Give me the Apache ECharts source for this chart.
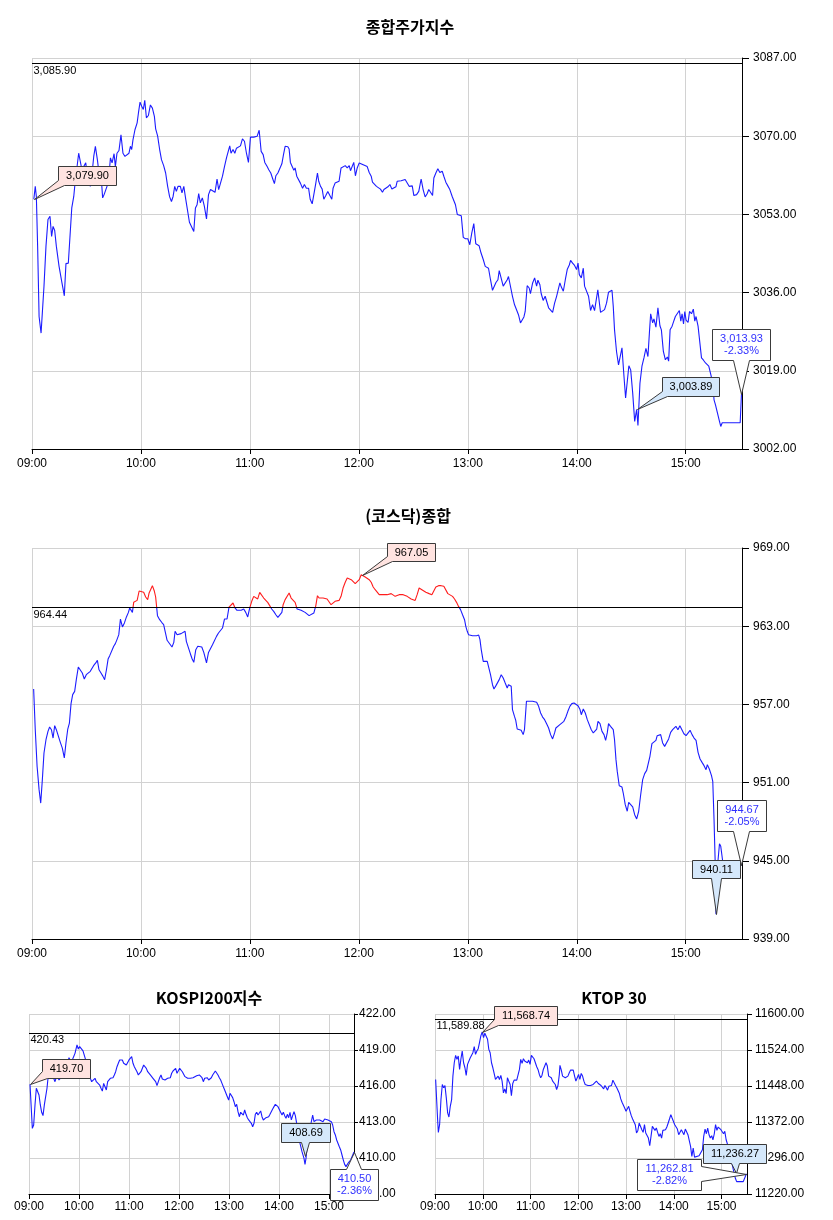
<!DOCTYPE html>
<html><head><meta charset="utf-8">
<script src="https://cdn.jsdelivr.net/npm/echarts@6/dist/echarts.min.js"></script>
<style>html,body{margin:0;padding:0;background:#fff}#c{width:833px;height:1220px}</style>
</head><body><div id="c"></div>
<script>
// ---------- DATA ----------
const hourLabels = ['09:00','10:00','11:00','12:00','13:00','14:00','15:00'];
const chartTitles = ['종합주가지수','(코스닥)종합','KOSPI200지수','KTOP 30'];

// 종합주가지수 (minutes after 09:00, index value)
const kospiTimes = [1,1.8,2.4,3.1,3.9,5,5.9,6.6,7.7,8.8,9.9,10.8,11.6,12.5,13.4,14.9,16.5,17.8,18.7,20,20.9,21.9,23,23.7,24.6,25.7,26.6,27.5,28.5,29.6,30.3,31.2,32.1,33.1,34,34.9,36,36.9,38.2,38.9,39.7,40.8,41.3,42.2,43.2,44.1,45.2,45.9,46.8,47.9,49,50.1,51.2,52.3,53.4,54.2,54.9,55.6,56.7,57.9,58.6,59.5,60.4,61.3,62.1,63,64.1,65.2,66.3,67.4,68.1,69.2,70.3,71.3,72.5,73.6,74.7,75.8,76.8,77.7,78.6,79.5,80.4,81.7,82.6,83.6,84.7,85.8,86.7,87.8,89.1,90,90.9,91.8,92.7,93.8,94.9,96.1,97.2,98.3,99.4,100.8,101.9,102.8,103.8,104.9,106,107.1,108.2,108.9,109.6,110.7,111.7,112.6,113.5,114.8,115.9,117,118.1,119.2,120.3,121.2,122.1,123.2,124,125.1,126.2,127.3,128.2,129.5,130.4,131.5,132.6,133.5,134.3,135.4,136.5,137.6,138.5,139.4,140.9,141.6,142.3,143.4,144.2,144.9,145.8,146.7,147.8,149,150,151.1,152.3,153.2,154.3,155.2,156.3,157.2,157.9,158.9,159.8,160.7,161.8,162.9,164,165.1,165.8,166.9,168,169.1,170.2,171.3,172.5,173.6,174.7,175.4,176.5,177.2,178.1,179.1,180.2,181.3,182.4,183.5,184.6,185.7,186.8,187.5,188.6,189.7,190.8,191.9,193,193.8,194.9,196,197.1,198.2,199.3,200.4,201.1,202.2,203.3,204.4,205.5,206.6,207.7,208.4,209.4,210.3,211.8,213,214.3,215.4,216.5,217.6,218.5,219.5,220.6,221.3,222.4,223.5,224.6,225.9,226.8,227.9,229,230.1,231.4,232.3,233.2,234.2,235.3,236.4,237.5,238.7,240,241.1,242.2,243.3,244.4,245.1,246.2,247.3,248.5,249.6,250.7,251.4,252.5,253.6,254.4,255.5,256.6,257.3,258.4,259.5,260.6,261.7,262.4,263.5,264.6,265.7,266.8,267.9,269,269.8,270.9,271.6,272.7,273.8,274.5,275.7,276.8,277.9,278.6,279.7,280.4,281.5,282.6,283.7,284.5,285.6,286.7,287.8,288.9,290,290.7,291.5,292.6,293.7,294.8,295.9,296.6,297.7,298.8,299.9,300.7,301.4,302.5,303.6,304.3,305.4,306.5,307.6,308.7,309.8,310.9,311.6,312.4,313.1,314.2,315.3,316.4,317.5,318.6,319.4,320.1,320.8,321.9,323,323.8,324.9,326,326.9,327.8,328.7,329.7,330.8,331.9,333,333.7,334.8,335.9,337,338.1,339.2,340,340.7,341.8,342.5,343.6,344.7,345.8,346.6,347.7,348.8,349.9,350.6,351.4,352.5,353.6,354.3,355.4,356.5,357.3,358,358.8,359.5,360.2,361.3,362.1,363.2,364.2,365,365.7,366.8,367.6,368.7,369.8,370.9,372,372.7,373.8,374.9,375.6,376.4,377.5,378.6,379.3,380.1,381.2,383,384.8,386.7,388.5,390,390.7];
const kospiValues = [3056.3,3059.1,3056.9,3046.1,3030.8,3027.2,3027.4,3037.4,3046.1,3051.9,3052.6,3048.2,3050.4,3049.5,3046.1,3041.7,3038.1,3035.3,3042.3,3042.4,3042.6,3054.4,3056.9,3059.8,3062.7,3066.3,3066.2,3062.7,3063.1,3064.2,3062,3063.1,3059.1,3062,3065.6,3067.8,3064.9,3062,3060.6,3056.6,3057.3,3057.3,3059.1,3060.6,3065.3,3064.2,3066.2,3063.4,3066.3,3066.9,3070.3,3066.3,3065.6,3065.6,3066.3,3067.8,3067.1,3069.2,3071.4,3072.9,3075,3077.4,3076.5,3075.8,3077.8,3074,3074.5,3076.8,3076.1,3074.3,3071.6,3070,3067.1,3064.9,3063.6,3062,3059.1,3056.8,3055.8,3056.9,3059.1,3058,3059.1,3059.1,3057.7,3059.1,3056.2,3055.8,3051.3,3051.1,3049.3,3054.4,3055.1,3057.5,3055.5,3056.6,3054.8,3052,3057.3,3058.4,3058,3057.8,3060.7,3058.4,3058.7,3061.3,3063.4,3065.3,3065.6,3067.9,3066.3,3067.1,3066.3,3067.4,3067.8,3067.9,3069.4,3068.9,3066.3,3064.3,3069.8,3069.4,3069.8,3069.5,3070,3071.3,3066.7,3066,3064.3,3063.4,3062.7,3062,3060.7,3059.7,3061.4,3062,3062.4,3064,3066,3067.8,3067.7,3067.2,3064.3,3063.3,3062.6,3063.1,3061.3,3061.4,3059.8,3058.7,3059.5,3058.7,3058.7,3056.3,3055.3,3057.3,3059.8,3062,3060.2,3059.1,3058.5,3056.3,3057.1,3058,3057.7,3056.3,3058.7,3059.8,3059.7,3060.2,3063.1,3063.4,3063.6,3063.1,3063.6,3062.5,3062.7,3064.3,3061.4,3063.1,3064.2,3064.5,3063.8,3064.2,3063.4,3062.1,3061.3,3060,3060.2,3059.1,3059.1,3058.5,3057.8,3058.4,3058.4,3059,3059.5,3058.5,3058.4,3059,3060.2,3060,3060.3,3060.2,3060.6,3060.6,3059.1,3059.1,3059.2,3057.1,3057.3,3058,3060.7,3058.4,3056.8,3057.5,3058.4,3058,3057.1,3060.9,3062,3062.9,3062.1,3062.4,3061.3,3060,3059.2,3058.4,3056.9,3056.9,3055.1,3053,3052.6,3052.7,3048,3047.7,3047.7,3046.4,3049,3051,3046.6,3046.4,3046.2,3044.6,3043.2,3041.7,3041.3,3041.3,3038.8,3036.5,3036.5,3038.2,3038.8,3040.8,3040.8,3037.4,3037.2,3038.8,3039.5,3039.2,3035.2,3033.4,3033.7,3031.2,3029.4,3029,3030.7,3031.9,3037.5,3037,3035.8,3038.1,3039.2,3037.4,3038.7,3037.7,3035.8,3034.3,3035.2,3035,3032.7,3032.4,3031.7,3033.7,3035.2,3035.2,3038.1,3037.2,3036.3,3038.8,3041.1,3042,3043,3042.4,3041.9,3041,3042.4,3039.9,3039.2,3041.3,3037.4,3037,3035.2,3032.1,3033.4,3032.1,3032.3,3036.6,3036.5,3031.7,3031.9,3032.3,3033.7,3036.1,3036.5,3036.5,3033,3027.9,3023.2,3020.3,3020,3024,3017.8,3013.1,3013.1,3020.1,3019.2,3014.2,3008,3010.6,3007.1,3016.3,3020,3021.8,3023.9,3022.1,3027.2,3031.4,3029.4,3030.3,3028.5,3032.7,3028.8,3027.9,3023.2,3021.4,3022,3021.1,3027.9,3028.7,3030,3030.8,3030.5,3032.1,3029.8,3031.4,3029.2,3031.9,3030,3029.5,3031.9,3031.4,3032.4,3029.8,3030.8,3028.7,3025.8,3021.8,3021.3,3020.7,3020.8,3020,3018.2,3016.3,3012.7,3011.6,3009.8,3008,3006.9,3007.7,3007.7,3007.7,3007.7,3007.7,3007.7,3007.7,3013.93];
const kospiPrevClose = 3085.90;
const kospiPrevText = '3,085.90';
const kospiCallTimes = [1, 333.0, 390.7];
const kospiCallValues = [3056.3, 3010.6, 3013.93];
const kospiCallTexts = ['3,079.90', '3,003.89', '3,013.93\n-2.33%'];

// (코스닥)종합
const kosdaqTimes = [0.9,1.8,2.8,3.9,4.8,5.7,6.6,7.7,8.8,9.7,10.7,11.6,12.5,13.4,14.5,15.6,16.7,17.8,18.7,19.7,20.6,21.5,22.4,23.5,24.4,25.5,26.6,27.7,28.8,29.9,31,32.1,33.1,33.9,35.1,36,36.9,38,39.1,40,41,41.9,42.8,43.9,45,45.9,46.8,47.8,48.7,49.8,50.9,52,53.1,53.8,54.5,55.3,56,57.1,57.9,59,60.1,61.5,62.6,63.7,64.5,65.2,66.3,67.4,68.1,69.1,70.3,71.4,72.5,73.3,74.4,75.5,76.2,77.1,78.1,78.8,79.9,81,82.1,83.2,84.3,85,86.1,87.2,88.2,89.1,90.2,91.3,92.4,93.5,94.6,95.3,96.1,97.2,98.3,99.4,100.5,101.6,102.7,103.8,104.9,106,107.4,108.5,109.6,110.7,111.8,112.9,114,115.2,116.6,117.7,118.8,119.9,121,122.1,123.2,124.3,125.4,126.5,127.6,128.7,129.8,130.9,132,133.1,134.3,135.4,136.5,137.6,138.3,139.4,140.5,141.6,142.7,143.8,144.9,146,147.1,148.2,149.3,150.4,151.5,152.6,153.7,155.2,156.3,157.2,158.1,159.2,160.3,161.4,162.5,163.6,164.7,165.8,166.9,168,169.1,170.2,171.3,172.5,173.6,174.7,175.8,176.9,178,179.1,180.2,181.3,182.4,183.5,184.6,185.7,186.8,187.9,189,190.1,191.2,192.3,193.4,194.5,195.6,196.7,197.8,198.9,200,201.1,202.2,203.3,204.4,205.5,206.6,207.7,208.8,209.9,211,212.1,213.2,214,214.7,215.8,216.9,218.7,220.2,221.3,222.4,223.9,225.3,226.8,227.9,229,230.1,231.6,232.7,233.8,234.9,236,237.1,238.2,238.9,239.7,240.4,241.5,242.6,243.7,244.8,246,246.7,247.4,248.5,249.6,250.7,251.4,252.5,253.6,254.4,255.5,256.6,257.3,258.4,259.5,260.6,261.7,262.4,263.2,263.9,264.6,265.7,266.4,267.2,268.3,269.4,270.5,271.2,272.3,273.5,274.5,275.7,276.8,277.9,279,280.1,281.2,282.3,283.4,284.5,285.6,286.7,287.8,288.5,289.6,290.7,291.8,292.9,294,295.1,296.2,297.3,298.5,299.5,300.7,301.8,302.5,303.6,304.7,305.8,306.9,308,309.1,310.2,311,311.7,312.8,313.9,315,315.9,316.8,317.5,318.6,320.1,320.8,321.6,322.3,323.4,324.9,325.6,326.7,327.8,328.6,329.7,330.8,331.9,333,334.1,335.2,336.3,337.4,338.5,339.6,340.3,341.4,342.5,343.6,344.3,345.4,346.2,347.3,348.4,349.5,350.6,351.7,352.8,353.9,354.6,355.7,356.8,357.9,359,360.2,361.3,362.4,363.5,364.6,365.7,366.8,367.9,369,370.1,371.2,371.9,373,374.2,374.9,375.6,376.2,376.7,377.5,378.6,379.3,380.3,382.1,384.8,387.6,390,390.7];
const kosdaqValues = [958.18,955.06,952.25,950.46,949.43,951.23,953.27,954.29,954.93,955.27,955.06,954.42,955.37,955.06,955.01,954.09,953.65,952.89,954.04,955.11,955.57,957.06,957.75,958,958.9,959.87,959.97,959.41,958.95,959.28,959.36,959.54,959.41,959.97,960.18,960.38,959.66,959.41,959.15,958.9,959.66,960.48,960.74,960.89,961.46,961.66,961.97,962.35,963.55,962.94,963.25,963.71,964.06,964.4,964.47,964.06,964.83,964.78,964.98,965.7,965.6,965.6,965.24,965.04,965.55,965.5,966.11,965.68,965.24,963.81,963.5,963.3,963.12,963.04,961.92,961.84,961.58,961.4,961.76,962.61,962.35,962.48,962.43,962.48,962.61,961.84,961.71,960.89,960.48,960.23,961.2,961.46,961.51,961.4,960.99,960.94,960.18,960.99,961.07,961.58,961.58,962.22,962.48,962.61,962.86,963.55,963.55,964.47,964.58,964.78,964.4,964.22,964.14,964.22,964.32,964.06,963.71,964.4,964.91,965.29,965.24,965.09,965.6,965.5,965.16,965.04,964.83,964.58,964.32,964.14,963.88,963.68,963.71,964.06,964.65,965.04,965.09,965.55,965.16,965.09,964.83,964.32,964.32,964.22,964.14,964.06,964.01,963.81,963.88,964.01,964.58,965.34,965.16,965.24,965.16,965.24,965.09,965.04,964.65,964.52,964.91,964.98,964.98,965.29,965.93,966.37,966.7,966.62,966.57,966.44,966.26,966.16,966.57,966.95,966.83,966.77,966.7,966.57,966.37,966.01,965.8,965.68,965.42,965.55,965.42,965.5,965.42,965.42,965.5,965.6,965.29,965.42,965.42,965.34,965.42,965.34,965.29,965.16,965.09,965.04,964.98,965.42,965.93,966.01,965.8,965.68,965.6,965.5,965.42,965.42,966.01,966.11,966.11,966.06,966.01,965.5,965.42,965.29,965.09,964.83,964.52,964.27,963.88,963.5,962.99,962.61,962.35,962.27,962.27,962.22,962.27,962.32,961.97,961.2,960.3,960.18,960.3,960.23,959.28,958.51,958.18,958.44,958.59,958.9,959.28,959.03,958.64,958.26,958.51,958.64,958.39,956.6,956.08,955.78,955.11,955.11,955.01,954.68,955.06,957.24,957.24,957.11,957.24,957.24,957.16,956.85,956.34,956.03,955.83,955.52,955.19,954.68,954.35,954.81,955.19,955.11,955.45,955.57,955.7,956.03,956.47,956.85,957.06,957.11,957.06,956.9,956.6,956.21,956.65,956.34,955.83,955.83,955.06,954.81,954.68,955.11,955.7,955.52,954.93,954.68,954.24,954.81,955.52,955.32,955.06,954.29,952.76,951.86,950.76,950.66,950.2,949.31,948.8,949.49,949.38,949.13,948.54,948.21,948.8,950.07,951.23,951.69,951.94,951.99,953.02,953.99,954.09,954.24,954.6,954.55,954.68,954.04,953.78,953.65,954.35,954.86,955.06,955.01,955.32,955.06,955.37,955.06,954.75,954.6,954.6,955.01,954.68,954.42,954.24,953.32,952.81,952.55,952.3,951.99,952.38,952.04,951.53,951.1,948.16,945.09,940.9,944.58,946.31,946.11,945.04,944.58,944.45,944.58,944.63,944.67];
const kosdaqPrevClose = 964.44;
const kosdaqPrevText = '964.44';
const kosdaqCallTimes = [181.8, 376.7, 390.7];
const kosdaqCallValues = [966.9, 940.9, 944.67];
const kosdaqCallTexts = ['967.05', '940.11', '944.67\n-2.05%'];

// KOSPI200지수
const k200Times = [1.2,2.4,4,5.6,7.2,8.8,10.4,12,13.6,15.2,16.8,18.4,20,21.6,23.2,24.8,27.2,29.6,31.2,33.6,36,38.4,40.8,43.2,45.6,48,50.4,52.8,55.2,57.6,59.2,60.8,63.2,64.8,66.4,68,69.6,70.4,72.8,75.2,76.8,79.2,80.8,82.4,84.8,86.4,88,89.6,91.2,92.8,94.4,96,97.6,99.2,100.8,102.4,104,105.6,107.2,108.8,110.4,112,113.6,115.2,116.8,118.4,120,121.6,123.2,124.8,126.4,128,129.6,131.2,132.8,134.4,136,137.6,139.2,140.8,142.4,144,145.6,147.2,148.8,150.4,152,153.6,155.2,156.8,158.4,160,161.6,163.2,164.8,166.4,168,169.6,171.2,172.8,174.4,176,177.6,179.2,180.8,182.4,184,185.6,187.2,188.8,190.4,192,193.6,195.2,196.8,198.8,201.2,202.8,204.4,206,207.6,209.2,210.8,212.4,214,215.6,217.2,218.8,220.4,222,223.6,225.2,226.8,228.4,230,231.6,233.2,234.8,236.4,238,239.6,241.2,242.8,244.4,246,247.6,249.2,250.8,252.4,254,255.6,257.2,258.8,260.4,262,263.6,265.2,266.8,268.4,270,271.6,273.2,274.8,276.4,278,279.6,281.2,282.8,284.4,286,287.6,289.2,290.8,292.4,294,295.6,297.2,298.8,300.4,302,303.6,305.2,306.8,308.4,310,311.6,313.2,314.8,316.4,318,319.6,321.2,323.6,325.2,327.6,330,331.2,332.4,334,335.6,338,340.4,342,344.8,348.8,352.8,354.8,356.8,358.8,360.8,362.8,364.4,366,367.6,369.2,370.8,372.4,374,375.6,377.2,378.8,380.4,382,383.6,386,390];
const k200Values = [416.14,416.22,412.47,412.75,414.42,415.81,415.94,415.25,414.42,413.81,413.53,414.42,414.42,415.81,416.92,417.19,417.47,416.64,416.36,416.92,416.5,416.42,416.92,417.47,417.75,418.36,418.03,418.31,418.72,419.42,419.08,419.28,419.19,418.92,419.08,418.17,416.92,417.06,416.78,416.36,416.22,416.64,416.36,416.5,416.08,415.81,415.58,416.22,415.94,415.67,416.36,416.22,416.64,416.5,416.69,416.92,417.19,417.61,417.89,418.17,418.03,418.17,417.89,418.03,417.75,417.89,418.17,418.31,418.44,417.89,417.61,417.53,417.19,416.92,416.78,417.19,417.33,417.75,417.81,417.47,417.19,417.25,416.92,416.92,416.64,416.5,416.36,416.03,416.36,416.69,416.92,416.58,416.69,416.5,416.42,416.64,416.78,416.69,417.06,417.25,417.19,417.47,417.06,417.19,417.47,417.33,417.19,417.06,416.78,416.69,416.64,416.5,416.64,416.64,416.69,416.78,416.86,416.78,416.92,416.78,416.69,416.36,416.64,416.5,416.69,416.5,416.64,416.69,416.92,416.97,417.25,417.19,416.92,416.69,416.5,416.22,415.94,415.67,415.53,415.11,414.83,415.39,415.25,415.03,414.69,414.28,414.47,413.86,413.44,413.81,413.92,413.58,414,413.64,413.36,413.17,413.03,412.89,412.61,412.89,413.64,413.81,413.58,413.44,413.92,413.44,413.17,413.17,413.36,413.25,413.44,413.64,413.72,414.08,414.28,414.47,414.42,414.28,414.14,413.81,413.58,413.81,413.53,413.31,413.64,413.36,413.81,413.17,413.53,413.86,413.53,412.89,411.92,411.22,410.53,409.97,409.47,409.97,411.08,411.92,412.75,413.58,413.03,413.17,413.17,413.03,413.25,413.36,413.17,413.25,413.03,412.75,412.19,411.92,411.5,411.36,410.94,410.67,410.25,409.83,409.47,409.28,409.42,409.64,409.83,410.5];
const k200PrevClose = 420.43;
const k200PrevText = '420.43';
const k200CallTimes = [1.2, 331.6, 390];
const k200CallValues = [416.14, 410.2, 410.5];
const k200CallTexts = ['419.70', '408.69', '410.50\n-2.36%'];

// KTOP 30
const ktopTimes = [0.8,1.7,3.3,4.2,5.8,7.5,9.2,10.9,12.5,14.2,15.9,17.5,19.2,20.9,22.5,24.2,25.9,27.6,29.2,30.9,32.6,34.2,35.9,37.6,39.2,40.9,42.6,44.3,45.9,47.6,49.3,50.9,52.6,54.3,55.9,57.6,59.3,61,62.6,64.3,66,67.6,69.3,71,72.7,74.3,76,77.7,79.3,81,82.7,84.3,86,87.7,89.4,91,92.7,94.4,96,97.7,99.4,101,102.7,104.4,106.1,107.7,109.4,111.1,112.7,114.4,116.1,117.7,119.4,121.1,122.8,124.4,126.1,127.8,129.4,131.1,132.8,134.4,136.1,137.8,139.5,141.1,142.8,144.5,146.1,147.8,149.5,151.1,152.8,154.5,156.2,157,158.7,160.3,162,163.7,165.3,167,168.7,170.4,172,173.7,175.4,177,178.7,180.4,182,183.7,185.4,187.1,188.7,190.4,192.1,193.7,195.4,197.1,198.7,200.4,202.8,205.2,206.9,208.6,210.2,211.9,213.5,215.2,216.8,218.5,220.1,221.8,223.5,225.1,226.8,228.4,230.1,231.7,233.4,235,236.7,238.3,240,241.7,243.3,245,246.6,248.3,249.9,251.6,253.2,254.9,256.5,258.2,259.9,261.5,263.2,264.8,266.5,268.1,269.8,271.4,273.1,274.8,276.4,278.1,279.7,281.4,283,284.7,286.3,288,289.6,291.3,293,294.6,296.3,297.9,299.6,301.2,302.9,304.5,306.2,307.9,309.5,311.2,312.8,314.5,316.1,317.8,319.4,321.1,322.7,324.4,326.1,328.5,331.8,336,337.6,339.3,341,342.6,344.3,345.9,347.6,349.2,350.9,352.5,354.2,355.8,357.5,359.2,360.8,362.5,364.1,365.8,368.3,371.6,374.9,377.4,379,383.2,387.3,389,391.3];
const ktopValues = [11461.8,11463.2,11376.9,11350.1,11366.3,11419.4,11451.2,11444.1,11449.1,11422.9,11391.1,11382.6,11405.2,11419.4,11468.9,11497.1,11512.7,11504.2,11511.3,11483,11505.6,11521.9,11497.1,11486.5,11470.3,11493.6,11491.5,11507.7,11504.2,11518.3,11531.1,11514.8,11521.9,11526.8,11539.6,11553.7,11562.2,11550.2,11559.4,11557.2,11546.6,11525.4,11518.3,11497.1,11486.5,11474.5,11461.8,11465.3,11468.9,11461.8,11470.3,11458.2,11433.5,11442,11432.1,11465.3,11458.2,11451.2,11427.8,11453.3,11460.4,11458.2,11460.4,11461.8,11483,11504.2,11495.7,11505.6,11500.7,11504.2,11497.1,11502.8,11493.6,11512.7,11511.3,11505.6,11504.2,11488.6,11483,11472.4,11465.3,11470.3,11483,11484.4,11497.1,11490.1,11468.9,11472.4,11465.3,11458.2,11456.1,11451.2,11440.6,11449.1,11472.4,11491.5,11481.6,11468.9,11470.3,11465.3,11461.8,11468.9,11475.9,11481.6,11479.5,11481.6,11468.9,11458.2,11465.3,11472.4,11461.8,11474.5,11468.9,11458.2,11451.2,11454.7,11449.1,11446.2,11449.1,11447.6,11451.2,11454.7,11458.2,11453.3,11456.1,11449.1,11447.6,11442,11449.1,11444.1,11439.2,11447.6,11444.1,11449.1,11460.4,11458.2,11449.1,11444.1,11440.6,11432.1,11420.8,11413.7,11410.9,11401.7,11394.6,11398.2,11405.2,11394.6,11385.4,11378.4,11375.5,11366.3,11348.7,11354.3,11369.9,11373.4,11355.7,11350.1,11366.3,11348.7,11345.1,11338.1,11321.8,11341.6,11362.8,11364.2,11354.3,11359.3,11350.1,11341.6,11347.2,11338.1,11354.3,11350.1,11355.7,11361.4,11369.9,11378.4,11387.5,11380.5,11376.9,11366.3,11369.9,11357.1,11345.1,11341.6,11355.7,11352.2,11345.1,11357.1,11359.3,11345.1,11341.6,11320.4,11299.2,11316.8,11297.8,11299.2,11300.6,11313.3,11341.6,11357.1,11347.2,11359.3,11345.1,11338.1,11343,11334.5,11347.2,11366.3,11354.3,11361.4,11364.2,11355.7,11359.3,11347.2,11352.2,11334.5,11320.4,11295.6,11270.9,11253.2,11246.1,11246.1,11246.1,11248.3,11262.81];
const ktopPrevClose = 11589.88;
const ktopPrevText = '11,589.88';
const ktopCallTimes = [59.3, 378.6, 391.3];
const ktopCallValues = [11562.2, 11263.8, 11262.81];
const ktopCallTexts = ['11,568.74', '11,236.27', '11,262.81\n-2.82%'];

// y-axis ranges (min, max, step)
const yMins = [3002, 939, 407, 11220];
const yMaxs = [3087, 969, 422, 11600];
const ySteps = [17, 6, 3, 76];
const xMaxs = [391, 391, 390, 392];

// ---------- STYLES ----------
const FONT = '"Liberation Sans", Arial, sans-serif';
const TFONT = '"Noto Sans CJK KR", "Noto Sans", sans-serif';
const BLUE_LINE = '#1c1cff', RED_LINE = '#ff1c1c';
const PINK = '#ffe3e0', LBLUE = '#d5e8fb', CLOSE_TXT = '#3030ff';
const grids = [
  {left: 32, top: 58, width: 710, height: 391},
  {left: 32, top: 548, width: 710, height: 391},
  {left: 29, top: 1014, width: 325, height: 180},
  {left: 435, top: 1014, width: 312, height: 180}
];
const titlePos = [[410, 27], [408, 516], [209, 998], [614, 998]];
const yTick = [[7, 11], [7, 11], [4, 5], [5, 8]];
const xMargin = [9, 9, 7, 7];
const callShapes = [
  [
    {fill: PINK, color: '#000', poly: [[24,-33],[82,-33],[82,-14],[30,-14],[0,0],[24,-19]], c: [53,-23.5]},
    {fill: LBLUE, color: '#000', poly: [[25,-32],[82,-32],[82,-13],[30,-13],[0,0],[25,-18]], c: [53.5,-22.5]},
    {fill: '#fff', color: CLOSE_TXT, poly: [[-29,-65],[29,-65],[29,-34],[8,-34],[0,0],[-8,-34],[-29,-34]], c: [0,-49.5]}
  ],
  [
    {fill: PINK, color: '#000', poly: [[25,-32],[73,-32],[73,-14],[30,-14],[0,0],[25,-19]], c: [49,-23]},
    {fill: LBLUE, color: '#000', poly: [[-24,-54],[24,-54],[24,-36],[5,-36],[0,0],[-5,-36],[-24,-36]], c: [0,-45]},
    {fill: '#fff', color: CLOSE_TXT, poly: [[-24,-65],[25,-65],[25,-34],[8,-34],[0,0],[-8,-34],[-24,-34]], c: [0.5,-49.5]}
  ],
  [
    {fill: PINK, color: '#000', poly: [[12,-25],[60,-25],[60,-6],[17,-6],[0,0],[12,-13]], c: [36,-15.5]},
    {fill: LBLUE, color: '#000', poly: [[-24,-33],[25,-33],[25,-14],[4,-14],[0,0],[-4,-14],[-24,-14]], c: [0.5,-23.5]},
    {fill: '#fff', color: CLOSE_TXT, poly: [[-24,17],[-8,17],[0,0],[7,17],[24,17],[24,48],[-24,48]], c: [0,32.5]}
  ],
  [
    {fill: PINK, color: '#000', poly: [[12,-26],[75,-26],[75,-7],[16,-7],[0,0],[12,-13]], c: [43.5,-16.5]},
    {fill: LBLUE, color: '#000', poly: [[-33,-29],[30,-29],[30,-10],[3,-10],[0,0],[-5,-10],[-33,-10]], c: [-1.5,-19.5]},
    {fill: '#fff', color: CLOSE_TXT, poly: [[-109,-15],[-45,-15],[-45,-8],[0,0],[-45,7],[-45,16],[-109,16]], c: [-77,0.5]}
  ]
];

// ---------- BUILD ----------
const lineTimes = [kospiTimes, kosdaqTimes, k200Times, ktopTimes];
const lineValues = [kospiValues, kosdaqValues, k200Values, ktopValues];
const prevCloses = [kospiPrevClose, kosdaqPrevClose, k200PrevClose, ktopPrevClose];
const prevTexts = [kospiPrevText, kosdaqPrevText, k200PrevText, ktopPrevText];
const callTimes = [kospiCallTimes, kosdaqCallTimes, k200CallTimes, ktopCallTimes];
const callValues = [kospiCallValues, kosdaqCallValues, k200CallValues, ktopCallValues];
const callTexts = [kospiCallTexts, kosdaqCallTexts, k200CallTexts, ktopCallTexts];

const xAxes = [], yAxes = [], series = [], titles = [];
for (let i = 0; i < 4; i++) {
  titles.push({text: chartTitles[i], left: titlePos[i][0], top: titlePos[i][1], textAlign: 'center',
    textVerticalAlign: 'middle', padding: 0,
    textStyle: {fontFamily: TFONT, fontSize: 16, fontWeight: 'bold', color: '#000'}});
  xAxes.push({type: 'value', gridIndex: i, min: 0, max: xMaxs[i], interval: 60,
    axisLine: {show: true, onZero: false, lineStyle: {color: '#000', width: 1}},
    axisTick: {show: true, length: 5, lineStyle: {color: '#000'}},
    axisLabel: {margin: xMargin[i], color: '#000', fontSize: 12, fontFamily: FONT, showMaxLabel: false,
      formatter: v => (v % 60 === 0 ? hourLabels[v / 60] : '')},
    splitLine: {show: true, lineStyle: {color: '#d2d2d2', width: 1}}});
  yAxes.push({type: 'value', gridIndex: i, position: 'right', min: yMins[i], max: yMaxs[i], interval: ySteps[i],
    axisLine: {show: true, onZero: false, lineStyle: {color: '#000', width: 1}},
    axisTick: {show: true, length: yTick[i][0], lineStyle: {color: '#000'}},
    axisLabel: {margin: yTick[i][1], color: '#000', fontSize: 12, fontFamily: FONT, formatter: v => v.toFixed(2)},
    splitLine: {show: true, lineStyle: {color: '#d2d2d2', width: 1}}});
  series.push({type: 'line', xAxisIndex: i, yAxisIndex: i, symbol: 'none', showSymbol: false, animation: false,
    color: BLUE_LINE, lineStyle: {width: 1.1},
    data: lineTimes[i].map((t, k) => [t, lineValues[i][k]]),
    markLine: {silent: true, symbol: ['none', 'none'], animation: false, label: {show: false},
      lineStyle: {color: '#000', width: 1, type: 'solid'}, data: [{yAxis: prevCloses[i]}]}});
  // previous close label
  series.push({type: 'custom', xAxisIndex: i, yAxisIndex: i, clip: false, silent: true, animation: false, z: 9,
    data: [[0, prevCloses[i]]],
    renderItem: ((txt) => (params, api) => {
      const p = api.coord([api.value(0), api.value(1)]);
      return {type: 'text', x: p[0] + 1.5, y: p[1] + 2,
        style: {text: txt, fill: '#000', font: '11px ' + FONT, align: 'left', verticalAlign: 'top'}};
    })(prevTexts[i])});
  // callouts
  series.push({type: 'custom', xAxisIndex: i, yAxisIndex: i, clip: false, silent: true, animation: false, z: 10,
    data: callTimes[i].map((t, k) => [t, callValues[i][k]]),
    renderItem: ((shapes, texts) => (params, api) => {
      const k = params.dataIndex, s = shapes[k];
      const p = api.coord([api.value(0), api.value(1)]);
      const px = Math.round(p[0]) + 0.5, py = Math.round(p[1]) + 0.5;
      return {type: 'group', children: [
        {type: 'polygon', shape: {points: s.poly.map(q => [px + q[0], py + q[1]])},
          style: {fill: s.fill, stroke: '#3a3a3a', lineWidth: 1}},
        {type: 'text', x: px + s.c[0], y: py + s.c[1],
          style: {text: texts[k], fill: s.color, font: '11px ' + FONT, align: 'center', verticalAlign: 'middle', lineHeight: 12}}
      ]};
    })(callShapes[i], callTexts[i])});
}

const chart = echarts.init(document.getElementById('c'), null, {renderer: 'canvas'});
chart.setOption({
  backgroundColor: '#fff',
  animation: false,
  title: titles,
  grid: grids,
  xAxis: xAxes,
  yAxis: yAxes,
  visualMap: [{type: 'piecewise', show: false, seriesIndex: 3, dimension: 1,
    pieces: [{min: 900, max: kosdaqPrevClose, color: BLUE_LINE}, {gt: kosdaqPrevClose, max: 1000, color: RED_LINE}]}],
  series: series
});
</script></body></html>
